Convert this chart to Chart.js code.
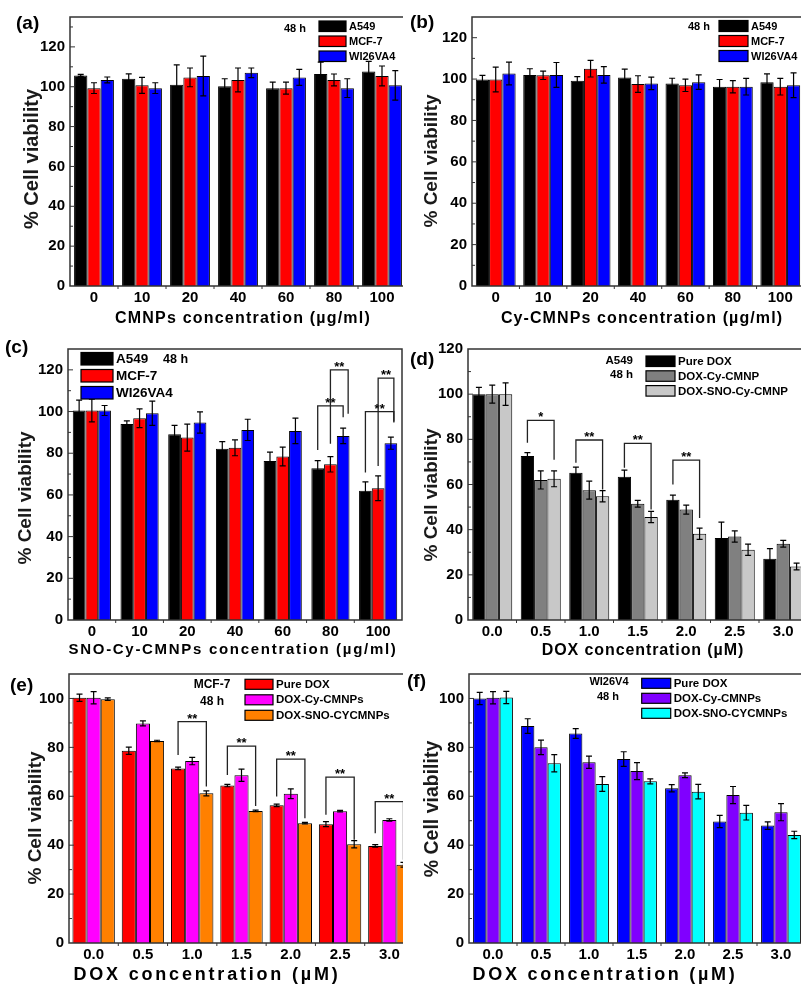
<!DOCTYPE html>
<html>
<head>
<meta charset="utf-8">
<script src="https://cdn.jsdelivr.net/npm/chart.js@4.4.1/dist/chart.umd.min.js"></script>
<style>
  html, body { margin: 0; padding: 0; background: #fff; overflow: hidden; width: 801px; height: 984px; }
  canvas { position: absolute; background: #fff; }
</style>
</head>
<body>
<canvas id="pa" width="410" height="330" style="left:0;top:0"></canvas>
<canvas id="pb" width="410" height="330" style="left:403px;top:0"></canvas>
<canvas id="pc" width="410" height="330" style="left:0;top:330px"></canvas>
<canvas id="pd" width="410" height="330" style="left:403px;top:330px"></canvas>
<canvas id="pe" width="420" height="326" style="left:0;top:660px"></canvas>
<canvas id="pf" width="410" height="326" style="left:403px;top:660px"></canvas>
<script>
// categories
const concLabels = ['0', '10', '20', '40', '60', '80', '100'];
const doxLabels = ['0.0', '0.5', '1.0', '1.5', '2.0', '2.5', '3.0'];

// (a) CMNPs
const aA549 = [105.7, 104, 101, 100.3, 99.3, 106.4, 107.7];
const aA549Err = [0.5, 2.5, 10, 3.7, 3, 6, 5];
const aMCF7 = [99.3, 100.7, 104.7, 103.4, 99.3, 103.4, 105.4];
const aMCF7Err = [2.7, 4, 4.7, 6, 3, 3, 5];
const aWI26 = [103.4, 99.3, 105.4, 107, 104.7, 99.3, 100.7];
const aWI26Err = [1.5, 2.7, 10, 2.4, 4, 4.7, 7.4];

// (b) Cy-CMNPs
const bA549 = [99.8, 102, 99.2, 100.8, 97.9, 96.3, 98.5];
const bA549Err = [2, 3, 2, 4, 2.5, 3.5, 4];
const bMCF7 = [99.8, 101.8, 105, 97.6, 97, 96.3, 96.3];
const bMCF7Err = [6, 2, 4, 4, 3, 3, 4];
const bWI26 = [102.7, 102, 102, 97.9, 98.5, 96.3, 97];
const bWI26Err = [5.5, 6, 4, 3, 3.5, 4, 6];

// (c) SNO-Cy-CMNPs
const cA549 = [100.5, 94, 89.1, 82.1, 76.3, 72.8, 62];
const cA549Err = [5, 1.5, 4.3, 3.5, 4.2, 3.7, 4.3];
const cMCF7 = [100.5, 96.8, 87.5, 82.6, 78.4, 74.7, 63.2];
const cMCF7Err = [5.5, 4.5, 6.5, 3.8, 4.5, 3.7, 5.9];
const cWI26 = [100.5, 99.2, 94.7, 91.2, 90.7, 88.3, 84.8];
const cWI26Err = [2.4, 5.8, 5.1, 5.1, 6.1, 3.7, 2.9];
// [category, from series, to series, top, left end, right end, mark]
const cBrackets = [
  [5, 0, 2, 102.7, 81.6, 97.3, '**'],
  [5, 1, 2, 120, 84.5, 98.9, '**'],
  [6, 0, 2, 100, 70.7, 94.7, '**'],
  [6, 1, 2, 116, 73.9, 95.2, '**']
];

// (d) A549 + DOX
const dPure = [100, 72.6, 65.2, 63.4, 53.3, 36.3, 27.1];
const dPureErr = [3, 1.5, 2.5, 3, 2, 7, 4.5];
const dCy = [100, 62, 57.5, 51.5, 48.9, 37, 33.8];
const dCyErr = [4, 4, 4, 1.5, 2, 2.5, 1.5];
const dSno = [100, 62.5, 54.8, 45.6, 38.2, 31.1, 23.7];
const dSnoErr = [5, 3.5, 2.5, 2.5, 2.5, 2.5, 1.5];
const dBrackets = [
  [1, 0, 2, 88.4, 78.5, 71, '*'],
  [2, 0, 2, 79.7, 69.6, 57.8, '**'],
  [3, 0, 2, 78.2, 67.4, 48.9, '**'],
  [4, 0, 2, 70.8, 60, 45.2, '**']
];

// (e) MCF-7 + DOX
const ePure = [100.3, 78.6, 71.4, 64.4, 56.3, 48.6, 39.7];
const ePureErr = [1.5, 1.5, 0.5, 0.5, 0.5, 1, 0.5];
const eCy = [100.3, 89.8, 74.4, 68.6, 61, 53.9, 50.3];
const eCyErr = [2.5, 1, 1.5, 2.5, 2, 0.3, 0.5];
const eSno = [99.7, 82.6, 61.2, 54, 49, 40.4, 32];
const eSnoErr = [0.5, 0.3, 1, 0.3, 0.3, 1.5, 1];
const eBrackets = [
  [2, 0, 2, 90.5, 76.9, 64, '**'],
  [3, 0, 2, 80.5, 68.7, 56, '**'],
  [4, 0, 2, 75.2, 59.9, 51, '**'],
  [5, 0, 2, 67.8, 52.4, 42.2, '**'],
  [6, 0, 2, 57.8, 44.9, 34, '**']
];

// (f) WI26V4 + DOX
const fPure = [100, 88.7, 85.7, 75.2, 63.3, 49.7, 48];
const fPureErr = [2.5, 3, 2, 3, 1.5, 2.5, 1.5];
const fCy = [100.3, 80, 73.9, 70.3, 68.6, 60.5, 53.5];
const fCyErr = [2.5, 3, 2.5, 3.5, 1, 3.5, 3.5];
const fSno = [100.4, 73.5, 65, 66.1, 61.9, 53.3, 44.2];
const fSnoErr = [2.5, 3.5, 3, 1, 3, 3, 1.5];

Chart.defaults.font.family = '"Liberation Sans", Arial, sans-serif';
Chart.defaults.font.weight = 'bold';
Chart.defaults.color = '#000';

const FONT = '"Liberation Sans", Arial, sans-serif';

// error bars, frame, ticks, brackets, legend, axis titles and panel texts
const decor = {
  id: 'decor',
  afterDatasetsDraw(chart, args, o) {
    const { ctx, chartArea: ca, scales: { x, y } } = chart;
    ctx.save();
    ctx.strokeStyle = '#000';
    ctx.lineWidth = 1.2;
    chart.data.datasets.forEach((ds, di) => {
      chart.getDatasetMeta(di).data.forEach((bar, i) => {
        const v = ds.data[i], e = ds.errors[i];
        const yt = y.getPixelForValue(v + e), yb = y.getPixelForValue(v - e);
        ctx.beginPath();
        ctx.moveTo(bar.x, yt); ctx.lineTo(bar.x, yb);
        ctx.moveTo(bar.x - 3, yt); ctx.lineTo(bar.x + 3, yt);
        ctx.moveTo(bar.x - 3, yb); ctx.lineTo(bar.x + 3, yb);
        ctx.stroke();
      });
    });

    // frame
    ctx.strokeStyle = '#333';
    ctx.lineWidth = 1.5;
    ctx.strokeRect(ca.left, ca.top, ca.width, ca.height);

    // y ticks (inside) and x ticks between groups
    ctx.lineWidth = 1;
    ctx.beginPath();
    for (let v = 10; v < y.max; v += 10) {
      const py = y.getPixelForValue(v);
      ctx.moveTo(ca.left, py);
      ctx.lineTo(ca.left + (v % 20 === 0 ? 5 : 3), py);
    }
    const n = chart.data.labels.length;
    for (let i = 1; i < n; i++) {
      const px = ca.left + i * ca.width / n;
      ctx.moveTo(px, ca.bottom);
      ctx.lineTo(px, ca.bottom + 3);
    }
    ctx.stroke();

    // significance brackets
    ctx.strokeStyle = '#222';
    ctx.lineWidth = 1.3;
    ctx.fillStyle = '#000';
    ctx.font = 'bold 13px ' + FONT;
    ctx.textAlign = 'center';
    ctx.textBaseline = 'alphabetic';
    (o.brackets || []).forEach((b, k) => {
      const [cat, s1, s2, top, l, r, mark] = b;
      const shift = o.rightShift ? o.rightShift[k] : 0;
      const x1 = chart.getDatasetMeta(s1).data[cat].x;
      const x2 = chart.getDatasetMeta(s2).data[cat].x + shift;
      const yt = y.getPixelForValue(top);
      ctx.beginPath();
      ctx.moveTo(x1, y.getPixelForValue(l));
      ctx.lineTo(x1, yt);
      ctx.lineTo(x2, yt);
      ctx.lineTo(x2, y.getPixelForValue(r));
      ctx.stroke();
      ctx.fillText(mark, (x1 + x2) / 2, yt + 1);
    });

    // legend
    const lg = o.legend;
    ctx.textAlign = 'left';
    ctx.textBaseline = 'middle';
    ctx.font = 'bold ' + lg.size + 'px ' + FONT;
    chart.data.datasets.forEach((ds, i) => {
      const by = lg.y + i * lg.step;
      ctx.fillStyle = ds.backgroundColor;
      ctx.fillRect(lg.x, by, lg.w, lg.h);
      ctx.strokeStyle = '#000';
      ctx.lineWidth = 1.2;
      ctx.strokeRect(lg.x, by, lg.w, lg.h);
      ctx.fillStyle = '#000';
      ctx.fillText(ds.label, lg.x + lg.w + 3, by + lg.h / 2 + 0.5);
    });

    // notes ("48 h", cell line)
    (o.notes || []).forEach(t => {
      ctx.font = 'bold ' + t.size + 'px ' + FONT;
      ctx.textAlign = t.align;
      ctx.fillText(t.text, t.x, t.y);
    });

    // panel letter
    ctx.font = 'bold 19px ' + FONT;
    ctx.textAlign = 'left';
    ctx.fillText(o.letter.text, o.letter.x, o.letter.y);

    // x axis title (letter-spaced like the original)
    const xt = o.xTitle;
    ctx.font = 'bold ' + xt.size + 'px ' + FONT;
    ctx.letterSpacing = xt.spacing + 'px';
    ctx.textAlign = 'center';
    ctx.fillText(xt.text, xt.x, xt.y);
    ctx.letterSpacing = '0px';

    // y axis title
    const yt = o.yTitle;
    ctx.save();
    ctx.translate(yt.x, yt.y);
    ctx.rotate(-Math.PI / 2);
    ctx.font = 'bold ' + yt.size + 'px ' + FONT;
    ctx.fillStyle = '#1a1a1a';
    ctx.fillText('% Cell viability', 0, 0);
    ctx.restore();

    ctx.restore();
  }
};

function panel(cfg) {
  const datasets = cfg.series.map(s => ({
    label: s.label,
    data: s.data,
    errors: s.err,
    backgroundColor: s.color,
    borderColor: '#000',
    borderWidth: 1,
    categoryPercentage: cfg.catPct,
    barPercentage: 1
  }));
  return new Chart(document.getElementById(cfg.canvas), {
    type: 'bar',
    data: { labels: cfg.labels, datasets: datasets },
    options: {
      responsive: false,
      maintainAspectRatio: false,
      animation: false,
      layout: { padding: { left: 0, top: cfg.top, right: cfg.right, bottom: 0 } },
      scales: {
        x: {
          grid: { display: false, drawTicks: false },
          border: { display: false },
          ticks: { font: { size: 15 }, padding: 2.5, color: '#000' },
          afterFit: s => { s.height = cfg.xh; }
        },
        y: {
          min: 0, max: cfg.ymax,
          grid: { display: false, drawTicks: false },
          border: { display: false },
          ticks: { stepSize: 20, includeBounds: false, font: { size: 15 }, padding: 5, color: '#000' },
          afterFit: s => { s.width = cfg.yw; }
        }
      },
      plugins: {
        legend: { display: false },
        tooltip: { enabled: false },
        decor: {
          brackets: cfg.brackets,
          rightShift: cfg.rightShift,
          legend: cfg.legend,
          notes: cfg.notes,
          letter: cfg.letter,
          xTitle: cfg.xTitle,
          yTitle: cfg.yTitle
        }
      }
    },
    plugins: [decor]
  });
}

panel({
  canvas: 'pa', labels: concLabels, ymax: 135,
  series: [
    { label: 'A549', data: aA549, err: aA549Err, color: '#000000' },
    { label: 'MCF-7', data: aMCF7, err: aMCF7Err, color: '#ff0000' },
    { label: 'WI26VA4', data: aWI26, err: aWI26Err, color: '#0000ff' }
  ],
  xTitle: { text: 'CMNPs concentration (µg/ml)', x: 243, y: 319, size: 16, spacing: 1.2 },
  yTitle: { x: 32, y: 159, size: 20 },
  yw: 70, xh: 44, top: 17, right: 4, catPct: 0.83,
  letter: { text: '(a)', x: 16, y: 24 },
  legend: { x: 319, y: 21, w: 27, h: 10.5, step: 15, size: 11 },
  notes: [{ text: '48 h', x: 295, y: 29, size: 11, align: 'center' }]
});

panel({
  canvas: 'pb', labels: concLabels, ymax: 130,
  series: [
    { label: 'A549', data: bA549, err: bA549Err, color: '#000000' },
    { label: 'MCF-7', data: bMCF7, err: bMCF7Err, color: '#ff0000' },
    { label: 'WI26VA4', data: bWI26, err: bWI26Err, color: '#0000ff' }
  ],
  xTitle: { text: 'Cy-CMNPs concentration (µg/ml)', x: 239, y: 319, size: 16, spacing: 1.1 },
  yTitle: { x: 29, y: 161, size: 19 },
  yw: 69, xh: 44, top: 17, right: 9, catPct: 0.84,
  letter: { text: '(b)', x: 7, y: 23 },
  legend: { x: 316, y: 20.5, w: 29, h: 11, step: 15, size: 11 },
  notes: [{ text: '48 h', x: 296, y: 27, size: 11, align: 'center' }]
});

panel({
  canvas: 'pc', labels: concLabels, ymax: 130,
  series: [
    { label: 'A549', data: cA549, err: cA549Err, color: '#000000' },
    { label: 'MCF-7', data: cMCF7, err: cMCF7Err, color: '#ff0000' },
    { label: 'WI26VA4', data: cWI26, err: cWI26Err, color: '#0000ff' }
  ],
  brackets: cBrackets, rightShift: [0, 5, 3, 3],
  xTitle: { text: 'SNO-Cy-CMNPs concentration (µg/ml)', x: 233, y: 320, size: 15, spacing: 1.7 },
  yTitle: { x: 26, y: 168, size: 19 },
  yw: 68, xh: 40, top: 19, right: 8, catPct: 0.80,
  letter: { text: '(c)', x: 5, y: 18 },
  legend: { x: 81, y: 22.5, w: 32, h: 12.5, step: 17, size: 13.5 },
  notes: [{ text: '48 h', x: 163, y: 30, size: 12.5, align: 'left' }]
});

panel({
  canvas: 'pd', labels: doxLabels, ymax: 120,
  series: [
    { label: 'Pure DOX', data: dPure, err: dPureErr, color: '#000000' },
    { label: 'DOX-Cy-CMNP', data: dCy, err: dCyErr, color: '#808080' },
    { label: 'DOX-SNO-Cy-CMNP', data: dSno, err: dSnoErr, color: '#c8c8c8' }
  ],
  brackets: dBrackets,
  xTitle: { text: 'DOX concentration (µM)', x: 240, y: 321, size: 16, spacing: 0.9 },
  yTitle: { x: 29, y: 165, size: 19 },
  yw: 65, xh: 40, top: 19, right: 5.5, catPct: 0.825,
  letter: { text: '(d)', x: 7, y: 30 },
  legend: { x: 243, y: 26, w: 29, h: 10.5, step: 14.8, size: 11.5 },
  notes: [
    { text: 'A549', x: 230, y: 31, size: 11.5, align: 'right' },
    { text: '48 h', x: 230, y: 45, size: 11.5, align: 'right' }
  ]
});

panel({
  canvas: 'pe', labels: doxLabels, ymax: 110,
  series: [
    { label: 'Pure DOX', data: ePure, err: ePureErr, color: '#ff0000' },
    { label: 'DOX-Cy-CMNPs', data: eCy, err: eCyErr, color: '#ff00ff' },
    { label: 'DOX-SNO-CYCMNPs', data: eSno, err: eSnoErr, color: '#ff8000' }
  ],
  brackets: eBrackets,
  xTitle: { text: 'DOX concentration (µM)', x: 207, y: 315, size: 18, spacing: 2.8 },
  yTitle: { x: 36, y: 158, size: 19 },
  yw: 69, xh: 43, top: 13, right: 6, catPct: 0.86,
  letter: { text: '(e)', x: 10, y: 26 },
  legend: { x: 245, y: 19.3, w: 28, h: 10, step: 15.5, size: 11.5 },
  notes: [
    { text: 'MCF-7', x: 212, y: 25, size: 12, align: 'center' },
    { text: '48 h', x: 212, y: 42, size: 12, align: 'center' }
  ]
});

panel({
  canvas: 'pf', labels: doxLabels, ymax: 110,
  series: [
    { label: 'Pure DOX', data: fPure, err: fPureErr, color: '#0000ff' },
    { label: 'DOX-Cy-CMNPs', data: fCy, err: fCyErr, color: '#8000ff' },
    { label: 'DOX-SNO-CYCMNPs', data: fSno, err: fSnoErr, color: '#00ffff' }
  ],
  xTitle: { text: 'DOX concentration (µM)', x: 202, y: 315, size: 18, spacing: 2.7 },
  yTitle: { x: 30, y: 149, size: 19.5 },
  yw: 66, xh: 43, top: 13, right: 8, catPct: 0.83,
  letter: { text: '(f)', x: 4, y: 21.5 },
  legend: { x: 238.7, y: 18.3, w: 29, h: 10, step: 15, size: 11.5 },
  notes: [
    { text: 'WI26V4', x: 206, y: 21.7, size: 11, align: 'center' },
    { text: '48 h', x: 205, y: 37, size: 11, align: 'center' }
  ]
});
</script>
</body>
</html>
